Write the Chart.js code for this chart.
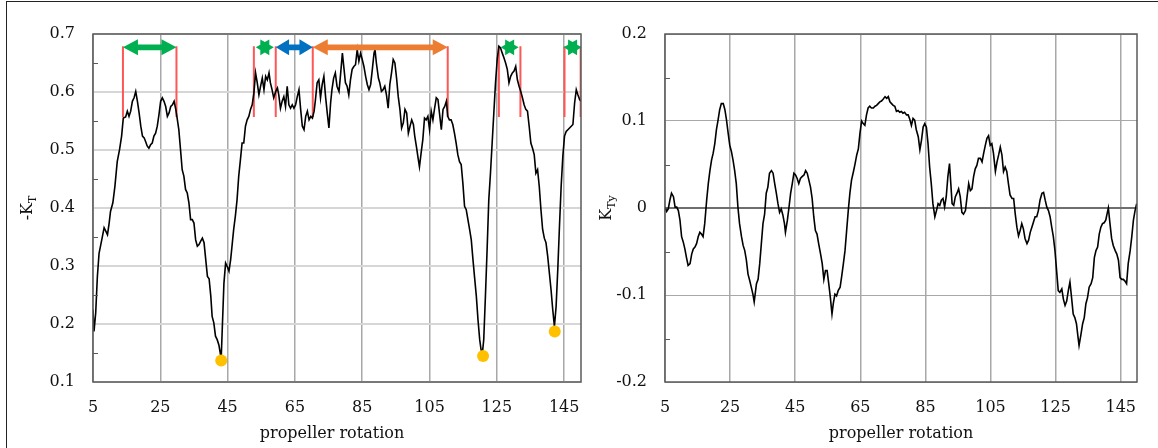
<!DOCTYPE html>
<html>
<head>
<meta charset="utf-8">
<script src="https://cdn.jsdelivr.net/npm/chart.js@4.4.1/dist/chart.umd.min.js"></script>
<style>
  html, body { margin: 0; padding: 0; background: #fff; }
  #wrap { position: relative; width: 1158px; height: 448px; overflow: hidden; }
  #frame { position: absolute; left: 6px; top: 1px; width: 1300px; height: 600px;
           border-left: 1px solid #222; border-top: 1px solid #222; pointer-events: none; }
  canvas { position: absolute; top: 0; }
  #ktChart { left: 0; }
  #ktyChart { left: 590px; }
</style>
</head>
<body>
<div id="wrap">
  <canvas id="ktChart" width="600" height="448"></canvas>
  <canvas id="ktyChart" width="568" height="448"></canvas>
  <div id="frame"></div>
</div>
<script>
// ---- data: [propeller rotation, value] ----
const ktPoints = [
  [5.0,0.225],[5.3,0.187],[5.8,0.219],[6.3,0.282],[6.8,0.322],[7.6,0.345],[8.3,0.366],[8.8,0.360],[9.3,0.354],[9.8,0.374],
  [10.2,0.394],[10.9,0.409],[11.5,0.437],[12.2,0.480],[12.9,0.501],[13.5,0.524],[14.0,0.555],[14.7,0.557],[15.2,0.567],[15.7,0.558],
  [16.2,0.567],[16.7,0.584],[17.2,0.590],[17.7,0.601],[18.2,0.584],[18.7,0.564],[19.2,0.541],[19.7,0.524],[20.2,0.521],[20.6,0.515],
  [21.1,0.507],[21.6,0.503],[22.1,0.509],[22.6,0.512],[23.1,0.524],[23.6,0.529],[24.1,0.541],[24.6,0.561],[25.1,0.584],[25.6,0.590],
  [26.1,0.584],[26.6,0.575],[27.1,0.558],[27.6,0.564],[28.1,0.575],[28.6,0.578],[29.1,0.584],[29.6,0.570],[30.0,0.555],[30.5,0.535],
  [31.0,0.501],[31.5,0.466],[32.0,0.455],[32.5,0.432],[33.0,0.426],[33.5,0.409],[34.0,0.380],[34.5,0.380],[35.0,0.374],[35.5,0.345],
  [36.0,0.334],[36.5,0.337],[37.0,0.343],[37.5,0.348],[38.0,0.340],[38.5,0.311],[39.0,0.282],[39.5,0.278],[40.0,0.248],[40.4,0.213],
  [40.9,0.202],[41.4,0.179],[41.9,0.173],[42.4,0.164],[42.9,0.147],[43.1,0.142],[43.4,0.190],[43.9,0.270],[44.4,0.305],[44.9,0.299],
  [45.4,0.291],[45.9,0.311],[46.4,0.340],[46.8,0.363],[47.3,0.386],[47.8,0.414],[48.3,0.455],[48.8,0.483],[49.3,0.512],[49.8,0.512],
  [50.3,0.541],[50.8,0.552],[51.3,0.558],[51.8,0.570],[52.3,0.578],[52.8,0.598],[53.3,0.633],[53.8,0.616],[54.3,0.595],[54.8,0.610],
  [55.3,0.624],[55.8,0.604],[56.3,0.627],[56.8,0.621],[57.3,0.633],[57.7,0.616],[58.2,0.604],[58.7,0.590],[59.3,0.601],[59.8,0.607],
  [60.2,0.595],[60.7,0.572],[61.2,0.584],[61.7,0.592],[62.2,0.575],[62.7,0.610],[63.2,0.578],[63.7,0.572],[64.2,0.578],[64.7,0.572],
  [65.2,0.578],[65.7,0.592],[66.2,0.604],[66.7,0.570],[67.2,0.541],[67.7,0.535],[68.2,0.558],[68.7,0.567],[69.2,0.552],[69.7,0.558],
  [70.2,0.555],[70.7,0.567],[71.1,0.587],[71.6,0.616],[72.1,0.621],[72.6,0.590],[73.1,0.613],[73.6,0.627],[74.1,0.592],[74.6,0.564],
  [75.1,0.538],[75.6,0.581],[76.0,0.604],[76.5,0.624],[77.0,0.633],[77.5,0.610],[78.1,0.601],[78.6,0.633],[79.1,0.667],[79.6,0.639],
  [80.0,0.616],[80.5,0.610],[81.0,0.595],[81.5,0.621],[82.0,0.639],[82.5,0.644],[83.0,0.647],[83.5,0.673],[84.0,0.653],[84.5,0.667],
  [85.0,0.656],[85.5,0.644],[86.0,0.627],[86.5,0.613],[87.0,0.604],[87.5,0.613],[88.0,0.639],[88.5,0.667],[88.8,0.673],[89.2,0.650],
  [89.8,0.624],[90.2,0.616],[90.7,0.601],[91.2,0.604],[91.7,0.610],[92.2,0.595],[92.7,0.572],[93.2,0.613],[93.7,0.633],[94.2,0.656],
  [94.7,0.650],[95.2,0.624],[95.7,0.592],[96.2,0.570],[96.7,0.538],[97.2,0.547],[97.7,0.570],[98.2,0.564],[98.7,0.529],[99.2,0.541],
  [99.7,0.552],[100.2,0.544],[100.6,0.524],[101.1,0.506],[101.6,0.486],[102.0,0.471],[102.5,0.495],[103.0,0.518],[103.5,0.555],[104.0,0.552],
  [104.5,0.558],[105.0,0.535],[105.5,0.567],[106.0,0.552],[106.5,0.572],[107.0,0.590],[107.5,0.587],[108.0,0.561],[108.5,0.535],[109.0,0.570],
  [109.5,0.575],[110.0,0.584],[110.4,0.558],[110.9,0.552],[111.4,0.552],[111.9,0.544],[112.4,0.529],[112.9,0.512],[113.4,0.492],[113.9,0.480],
  [114.4,0.475],[114.9,0.443],[115.4,0.403],[115.9,0.397],[116.4,0.380],[116.9,0.363],[117.4,0.345],[117.9,0.311],[118.4,0.279],[118.9,0.248],
  [119.4,0.207],[119.9,0.173],[120.3,0.156],[120.7,0.150],[121.1,0.173],[121.6,0.248],[122.1,0.328],[122.6,0.414],[123.1,0.460],[123.6,0.512],
  [124.1,0.564],[124.6,0.616],[125.1,0.656],[125.6,0.679],[126.1,0.676],[126.6,0.667],[127.1,0.659],[127.6,0.650],[128.1,0.639],[128.6,0.616],
  [129.1,0.627],[129.6,0.633],[130.1,0.636],[130.6,0.644],[131.1,0.621],[131.6,0.610],[132.1,0.601],[132.6,0.590],[133.1,0.578],[133.6,0.570],
  [134.1,0.567],[134.6,0.541],[135.1,0.512],[135.6,0.503],[136.1,0.492],[136.6,0.460],[137.1,0.466],[137.6,0.437],[138.1,0.397],[138.6,0.363],
  [139.1,0.348],[139.6,0.340],[140.1,0.317],[140.6,0.288],[141.1,0.259],[141.6,0.225],[142.1,0.196],[142.6,0.230],[143.1,0.294],[143.6,0.368],
  [144.1,0.437],[144.6,0.489],[145.1,0.524],[145.6,0.532],[146.1,0.535],[146.6,0.538],[147.1,0.541],[147.6,0.544],[148.1,0.581],[148.6,0.604],
  [149.1,0.595],[149.6,0.587],[150.0,0.584]
];

const ktyPoints = [
  [5.0,0.001],[5.5,-0.004],[6.0,-0.001],[6.5,0.009],[7.0,0.017],[7.6,0.013],[8.1,0.001],[8.6,0.001],[9.1,-0.003],[9.6,-0.014],
  [10.1,-0.033],[10.6,-0.039],[11.1,-0.047],[11.6,-0.057],[12.1,-0.066],[12.7,-0.064],[13.2,-0.053],[13.7,-0.047],[14.2,-0.045],[14.7,-0.041],
  [15.2,-0.033],[15.7,-0.028],[16.2,-0.030],[16.7,-0.033],[17.2,-0.018],[17.8,0.009],[18.3,0.028],[18.8,0.043],[19.3,0.055],[19.8,0.063],
  [20.3,0.074],[20.8,0.090],[21.3,0.101],[21.8,0.113],[22.3,0.120],[22.9,0.120],[23.4,0.113],[23.9,0.101],[24.4,0.086],[24.9,0.072],
  [25.4,0.065],[25.9,0.055],[26.4,0.043],[26.9,0.028],[27.4,0.001],[27.9,-0.018],[28.5,-0.033],[29.0,-0.043],[29.5,-0.049],[30.0,-0.060],
  [30.5,-0.076],[31.0,-0.083],[31.5,-0.091],[32.0,-0.099],[32.4,-0.108],[33.1,-0.087],[33.6,-0.082],[34.1,-0.064],[34.6,-0.041],[35.1,-0.018],
  [35.6,-0.007],[36.1,0.017],[36.6,0.024],[37.1,0.040],[37.7,0.043],[38.2,0.040],[38.7,0.028],[39.2,0.017],[39.7,0.005],[40.2,-0.005],
  [40.7,-0.001],[41.2,-0.008],[41.7,-0.018],[42.0,-0.028],[42.6,-0.014],[43.1,0.001],[43.6,0.017],[44.1,0.028],[44.6,0.040],[45.1,0.038],
  [45.6,0.034],[46.1,0.028],[46.6,0.034],[47.1,0.036],[47.7,0.038],[48.2,0.043],[48.7,0.040],[49.2,0.032],[49.7,0.024],[50.2,0.011],
  [50.7,-0.010],[51.2,-0.026],[51.7,-0.030],[52.2,-0.041],[52.8,-0.053],[53.3,-0.064],[53.8,-0.082],[54.3,-0.072],[54.8,-0.072],[55.3,-0.087],
  [55.8,-0.103],[56.3,-0.122],[56.7,-0.110],[57.2,-0.099],[57.7,-0.101],[58.2,-0.095],[58.8,-0.091],[59.3,-0.078],[59.8,-0.064],[60.3,-0.049],
  [60.8,-0.026],[61.3,-0.003],[61.8,0.017],[62.3,0.032],[62.9,0.042],[63.4,0.051],[63.9,0.061],[64.4,0.068],[64.9,0.086],[65.4,0.100],
  [65.9,0.097],[66.4,0.095],[66.9,0.107],[67.4,0.115],[67.9,0.117],[68.4,0.115],[69.0,0.115],[69.5,0.117],[70.0,0.118],[70.5,0.120],
  [71.0,0.122],[71.5,0.123],[72.0,0.125],[72.6,0.128],[73.1,0.126],[73.6,0.128],[74.1,0.122],[74.6,0.120],[75.1,0.118],[75.6,0.117],
  [76.1,0.111],[76.6,0.112],[77.1,0.110],[77.6,0.111],[78.1,0.109],[78.6,0.110],[79.2,0.107],[79.7,0.107],[80.2,0.102],[80.7,0.095],
  [81.2,0.103],[81.7,0.101],[82.2,0.090],[82.8,0.082],[83.3,0.067],[83.8,0.078],[84.3,0.093],[84.8,0.097],[85.3,0.093],[85.8,0.074],
  [86.3,0.047],[86.8,0.028],[87.3,0.005],[87.9,-0.010],[88.4,-0.003],[88.9,0.005],[89.4,0.003],[89.9,0.009],[90.4,0.011],[90.9,0.001],
  [91.4,0.013],[91.9,0.036],[92.4,0.051],[92.8,0.028],[93.2,0.005],[93.7,0.003],[94.2,0.013],[94.7,0.017],[95.2,0.022],[95.7,0.013],
  [96.2,-0.005],[96.7,-0.007],[97.3,-0.003],[97.8,0.013],[98.3,0.028],[98.8,0.020],[99.3,0.022],[99.8,0.036],[100.3,0.045],[100.8,0.049],
  [101.3,0.057],[101.9,0.057],[102.4,0.053],[102.9,0.063],[103.4,0.072],[103.9,0.080],[104.4,0.083],[104.9,0.072],[105.4,0.074],[105.9,0.063],
  [106.5,0.042],[107.0,0.053],[107.5,0.061],[108.0,0.070],[108.5,0.061],[109.0,0.042],[109.5,0.047],[110.0,0.042],[110.5,0.028],[111.0,0.015],
  [111.6,0.011],[112.1,0.011],[112.6,-0.007],[113.1,-0.022],[113.6,-0.032],[114.1,-0.026],[114.6,-0.018],[115.1,-0.024],[115.6,-0.035],[116.2,-0.041],
  [116.7,-0.037],[117.2,-0.028],[117.7,-0.022],[118.2,-0.016],[118.7,-0.010],[119.2,-0.010],[119.7,-0.003],[120.2,0.009],[120.8,0.017],[121.3,0.018],
  [121.8,0.009],[122.3,0.001],[122.8,-0.003],[123.3,-0.010],[123.8,-0.022],[124.3,-0.033],[124.8,-0.049],[125.3,-0.072],[125.8,-0.095],[126.3,-0.097],
  [126.9,-0.093],[127.4,-0.105],[127.9,-0.112],[128.4,-0.107],[128.9,-0.095],[129.4,-0.085],[129.9,-0.103],[130.4,-0.122],[130.9,-0.126],[131.4,-0.133],
  [131.9,-0.149],[132.2,-0.158],[132.8,-0.145],[133.3,-0.133],[133.8,-0.126],[134.3,-0.110],[134.8,-0.103],[135.3,-0.091],[135.9,-0.087],[136.4,-0.080],
  [136.9,-0.057],[137.4,-0.049],[137.9,-0.045],[138.4,-0.030],[138.9,-0.022],[139.4,-0.018],[139.9,-0.017],[140.4,-0.014],[140.9,-0.005],[141.2,0.000],
  [141.7,-0.018],[142.2,-0.035],[142.7,-0.043],[143.3,-0.049],[143.8,-0.053],[144.3,-0.060],[144.8,-0.080],[145.3,-0.082],[145.8,-0.082],[146.3,-0.084],
  [146.8,-0.087],[147.3,-0.064],[147.9,-0.049],[148.4,-0.033],[148.9,-0.014],[149.4,-0.003],[149.9,0.005]
];

// minima marked with yellow dots
const minimaX = [43.1, 120.9, 142.2];
const minimaY = [0.137, 0.145, 0.187];

// red vertical markers (rotation) and their vertical extent (-KT)
const markerX = [13.9, 29.8, 52.8, 59.3, 70.3, 110.4, 125.6, 132.0, 145.1, 149.9];
const markerLow = 0.557;
const markerHigh = 0.679;

// double arrows between markers
const arrowFrom   = [13.9, 59.3, 70.3];
const arrowTo     = [29.8, 70.3, 110.4];
const arrowColors = ['#00b050', '#0070c0', '#ed7d31'];
const arrowLevel  = 0.677;

// green stars
const starX = [56.05, 128.8, 147.5];

// axes
const xTicks   = [5, 25, 45, 65, 85, 105, 125, 145];
const ktTicks  = [0.1, 0.2, 0.3, 0.4, 0.5, 0.6, 0.7];
const ktMinor  = [0.15, 0.25, 0.35, 0.45, 0.55, 0.65];
const ktyTicks = [-0.2, -0.1, 0, 0.1, 0.2];
const ktyMinor = [-0.15, -0.05, 0.05, 0.15];

const serif = 'DejaVu Serif';
const tickFont = { family: serif, size: 16 };
const inkColor = '#111';

function drawDoubleArrow(ctx, x1, x2, y, color) {
  const head = Math.min(15, (x2 - x1) * 0.36), hh = 8, sh = 2.8;
  ctx.fillStyle = color;
  ctx.beginPath();
  ctx.moveTo(x1, y);
  ctx.lineTo(x1 + head, y - hh);
  ctx.lineTo(x1 + head, y - sh);
  ctx.lineTo(x2 - head, y - sh);
  ctx.lineTo(x2 - head, y - hh);
  ctx.lineTo(x2, y);
  ctx.lineTo(x2 - head, y + hh);
  ctx.lineTo(x2 - head, y + sh);
  ctx.lineTo(x1 + head, y + sh);
  ctx.lineTo(x1 + head, y + hh);
  ctx.closePath();
  ctx.fill();
}

function drawStar(ctx, cx, cy, r, color) {
  ctx.fillStyle = color;
  ctx.beginPath();
  for (let i = 0; i < 12; i++) {
    const ang = i * Math.PI / 6;
    const rr = i % 2 ? r * 0.58 : r;
    ctx.lineTo(cx + rr * Math.cos(ang), cy + rr * Math.sin(ang));
  }
  ctx.closePath();
  ctx.fill();
}

// frame, minor ticks, titles and annotations
const decor = {
  id: 'decor',
  afterDatasetsDraw(chart, args, o) {
    const { ctx, scales: { x, y } } = chart;
    if (!o.annotate) return;
    ctx.save();
    const py = y.getPixelForValue(arrowLevel);
    arrowFrom.forEach((f, i) => {
      drawDoubleArrow(ctx, x.getPixelForValue(f), x.getPixelForValue(arrowTo[i]), py, arrowColors[i]);
    });
    starX.forEach(v => drawStar(ctx, x.getPixelForValue(v), py, 9, '#00b050'));
    ctx.restore();
  },
  afterDraw(chart, args, o) {
    const { ctx, chartArea: a, scales: { y } } = chart;
    ctx.save();
    ctx.strokeStyle = '#5a5a5a';
    ctx.lineWidth = 1.5;
    ctx.strokeRect(a.left, a.top, a.right - a.left, a.bottom - a.top);

    ctx.lineWidth = 1;
    ctx.beginPath();
    o.minor.forEach(v => {
      const p = Math.round(y.getPixelForValue(v)) + 0.5;
      ctx.moveTo(a.left, p);
      ctx.lineTo(a.left + 5, p);
    });
    ctx.stroke();

    // x title
    ctx.fillStyle = inkColor;
    ctx.font = `16px "${serif}"`;
    ctx.textAlign = 'center';
    ctx.textBaseline = 'middle';
    ctx.fillText('propeller rotation', (a.left + a.right) / 2 + o.xTitleShift, 434);

    // y title with subscript
    ctx.translate(o.yTitleX, (a.top + a.bottom) / 2);
    ctx.rotate(-Math.PI / 2);
    ctx.font = `16px "${serif}"`;
    const w1 = ctx.measureText(o.yMain).width;
    ctx.font = `11px "${serif}"`;
    const w2 = ctx.measureText(o.ySub).width;
    const start = -(w1 + w2) / 2;
    ctx.textAlign = 'left';
    ctx.textBaseline = 'alphabetic';
    ctx.font = `16px "${serif}"`;
    ctx.fillText(o.yMain, start, 6);
    ctx.font = `11px "${serif}"`;
    ctx.fillText(o.ySub, start + w1, 10);
    ctx.restore();
  }
};

function xScale() {
  return {
    type: 'linear', min: 5, max: 150,
    afterBuildTicks: ax => { ax.ticks = xTicks.map(v => ({ value: v })); },
    afterFit: ax => { ax.height = 66; },
    grid: { color: '#a8a8a8', lineWidth: 1.5, drawTicks: false },
    border: { display: false },
    ticks: { padding: 16, color: inkColor, font: tickFont, maxRotation: 0, autoSkip: false }
  };
}

const toXY = pts => pts.map(p => ({ x: p[0], y: p[1] }));

// ---- left chart: -KT ----
new Chart(document.getElementById('ktChart'), {
  type: 'line',
  data: {
    datasets: [
      {
        data: minimaX.map((v, i) => ({ x: v, y: minimaY[i] })),
        showLine: false, pointRadius: 6, pointBackgroundColor: '#ffc000', pointBorderWidth: 0
      },
      {
        data: toXY(ktPoints),
        borderColor: '#000', borderWidth: 1.6, pointRadius: 0, tension: 0
      },
      {
        data: markerX.flatMap(v => [{ x: v, y: markerLow }, { x: v, y: markerHigh }, { x: v, y: null }]),
        borderColor: '#ff5757', borderWidth: 2, pointRadius: 0, spanGaps: false
      }
    ]
  },
  options: {
    responsive: false, animation: false, devicePixelRatio: 1,
    layout: { padding: { top: 34, right: 19, left: 0, bottom: 0 } },
    plugins: {
      legend: { display: false }, tooltip: { enabled: false },
      decor: { annotate: true, minor: ktMinor, yMain: '-K', ySub: 'T', yTitleX: 26, xTitleShift: -5 }
    },
    scales: {
      x: xScale(),
      y: {
        type: 'linear', min: 0.1, max: 0.7,
        afterBuildTicks: ax => { ax.ticks = ktTicks.map(v => ({ value: v })); },
        afterFit: ax => { ax.width = 93; },
        grid: { color: '#d6d6d6', lineWidth: 2, drawTicks: false },
        border: { display: false },
        ticks: { padding: 18, color: inkColor, font: tickFont, callback: v => v.toFixed(1) }
      }
    }
  },
  plugins: [decor]
});

// ---- right chart: KTy ----
new Chart(document.getElementById('ktyChart'), {
  type: 'line',
  data: {
    datasets: [{
      data: toXY(ktyPoints),
      borderColor: '#000', borderWidth: 1.6, pointRadius: 0, tension: 0
    }]
  },
  options: {
    responsive: false, animation: false, devicePixelRatio: 1,
    layout: { padding: { top: 34, right: 21, left: 0, bottom: 0 } },
    plugins: {
      legend: { display: false }, tooltip: { enabled: false },
      decor: { annotate: false, minor: ktyMinor, yMain: 'K', ySub: 'Ty', yTitleX: 15, xTitleShift: 0 }
    },
    scales: {
      x: xScale(),
      y: {
        type: 'linear', min: -0.2, max: 0.2,
        afterBuildTicks: ax => { ax.ticks = ktyTicks.map(v => ({ value: v })); },
        afterFit: ax => { ax.width = 75; },
        grid: {
          color: c => c.tick && c.tick.value === 0 ? '#6e6e6e' : '#a8a8a8',
          lineWidth: c => c.tick && c.tick.value === 0 ? 2 : 1,
          drawTicks: false
        },
        border: { display: false },
        ticks: { padding: 18, color: inkColor, font: tickFont, callback: v => v === 0 ? '0' : v.toFixed(1) }
      }
    }
  },
  plugins: [decor]
});
</script>
</body>
</html>
